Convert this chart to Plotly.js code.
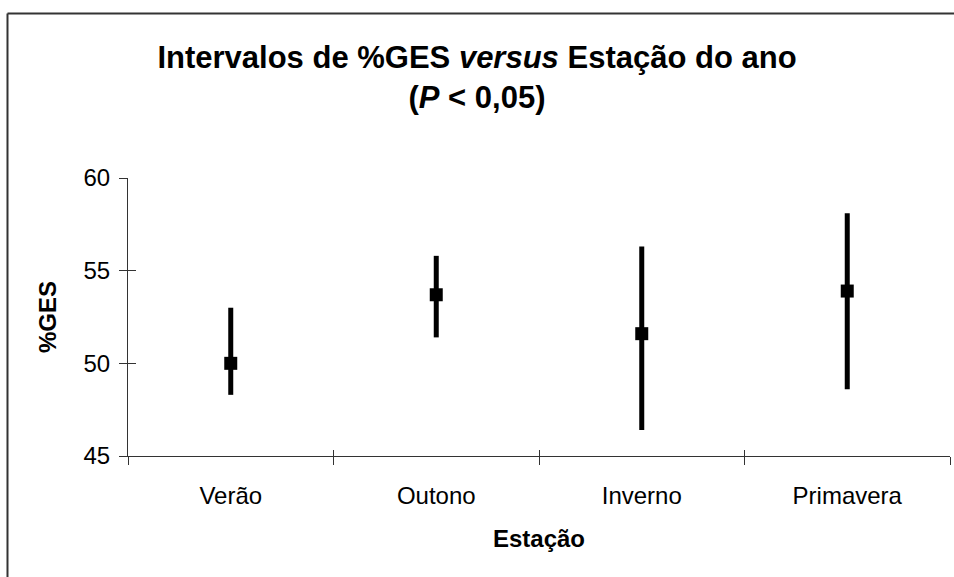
<!DOCTYPE html>
<html>
<head>
<meta charset="utf-8">
<script src="https://cdn.plot.ly/plotly-3.0.1.min.js"></script>
<style>
  html, body { margin: 0; padding: 0; background: #fff; }
  #chart { width: 954px; height: 577px; }
</style>
</head>
<body>
<div id="chart"></div>
<script>
const categories = ["Verão", "Outono", "Inverno", "Primavera"];
const means = [50.0, 53.7, 51.6, 53.9];
const upper = [53.0, 55.8, 56.3, 58.1];
const lower = [48.3, 51.4, 46.4, 48.6];
const yTicks = [45, 50, 55, 60];

const errPlus = means.map((m, i) => upper[i] - m);
const errMinus = means.map((m, i) => m - lower[i]);

const FONT = "Liberation Sans, Arial, sans-serif";

const traces = [
  {
    type: "scatter",
    mode: "markers",
    x: categories,
    y: means,
    marker: { symbol: "square", size: 13, color: "#000" },
    error_y: {
      type: "data",
      symmetric: false,
      array: errPlus,
      arrayminus: errMinus,
      thickness: 5,
      width: 0,
      color: "#000"
    },
    hoverinfo: "x+y",
    showlegend: false
  },
  {
    type: "scatter",
    mode: "markers",
    x: [],
    y: [],
    xaxis: "x2",
    yaxis: "y2",
    showlegend: false,
    hoverinfo: "skip"
  }
];

const layout = {
  width: 954,
  height: 577,
  margin: { l: 128, r: 4, t: 178, b: 121 },
  paper_bgcolor: "#fff",
  plot_bgcolor: "#fff",
  font: { family: FONT, color: "#000", size: 24 },
  showlegend: false,
  title: {
    text: "<b>Intervalos de %GES <i>versus</i> Estação do ano<br>(<i>P</i> < 0,05)</b>",
    font: { family: FONT, size: 31, color: "#000" },
    x: 0.5,
    xref: "container",
    xanchor: "center",
    y: 0.882,
    yref: "container",
    yanchor: "top"
  },
  xaxis: {
    type: "category",
    categoryorder: "array",
    categoryarray: categories,
    range: [-0.5, 3.5],
    tickson: "boundaries",
    ticks: "outside",
    ticklen: 8,
    tickwidth: 1,
    tickcolor: "#333",
    showline: true,
    linecolor: "#333",
    linewidth: 1,
    showgrid: false,
    zeroline: false,
    ticklabelstandoff: 18,
    tickfont: { family: FONT, size: 24, color: "#000" },
    title: { text: "<b>Estação</b>", font: { family: FONT, size: 24, color: "#000" }, standoff: 22 },
    fixedrange: true
  },
  yaxis: {
    range: [45, 60],
    tickvals: yTicks,
    ticktext: yTicks.map(String),
    ticks: "outside",
    ticklen: 8,
    tickwidth: 1,
    tickcolor: "#333",
    showline: true,
    linecolor: "#333",
    linewidth: 1,
    showgrid: false,
    zeroline: false,
    ticklabelstandoff: 4,
    tickfont: { family: FONT, size: 24, color: "#000" },
    title: { text: "<b>%GES</b>", font: { family: FONT, size: 24, color: "#000" }, standoff: 20 },
    fixedrange: true
  },
  xaxis2: {
    overlaying: "x",
    anchor: "y2",
    side: "bottom",
    range: [-0.5, 3.5],
    tickvals: [-0.5, 0.5, 1.5, 2.5, 3.5],
    ticks: "inside",
    ticklen: 6,
    tickwidth: 1,
    tickcolor: "#333",
    showticklabels: false,
    showline: false,
    showgrid: false,
    zeroline: false,
    fixedrange: true
  },
  yaxis2: {
    overlaying: "y",
    anchor: "x2",
    side: "left",
    range: [45, 60],
    tickvals: yTicks,
    ticks: "inside",
    ticklen: 8,
    tickwidth: 1,
    tickcolor: "#333",
    showticklabels: false,
    showline: false,
    showgrid: false,
    zeroline: false,
    fixedrange: true
  },
  shapes: [
    {
      type: "line", xref: "paper", yref: "paper",
      x0: -0.1466, x1: 1.1, y0: 1.5917, y1: 1.5917,
      line: { color: "#333", width: 2 }
    },
    {
      type: "line", xref: "paper", yref: "paper",
      x0: -0.1466, x1: -0.1466, y0: 1.5917, y1: -0.6,
      line: { color: "#333", width: 2 }
    }
  ]
};

Plotly.newPlot("chart", traces, layout, { displayModeBar: false, staticPlot: true });
</script>
</body>
</html>
